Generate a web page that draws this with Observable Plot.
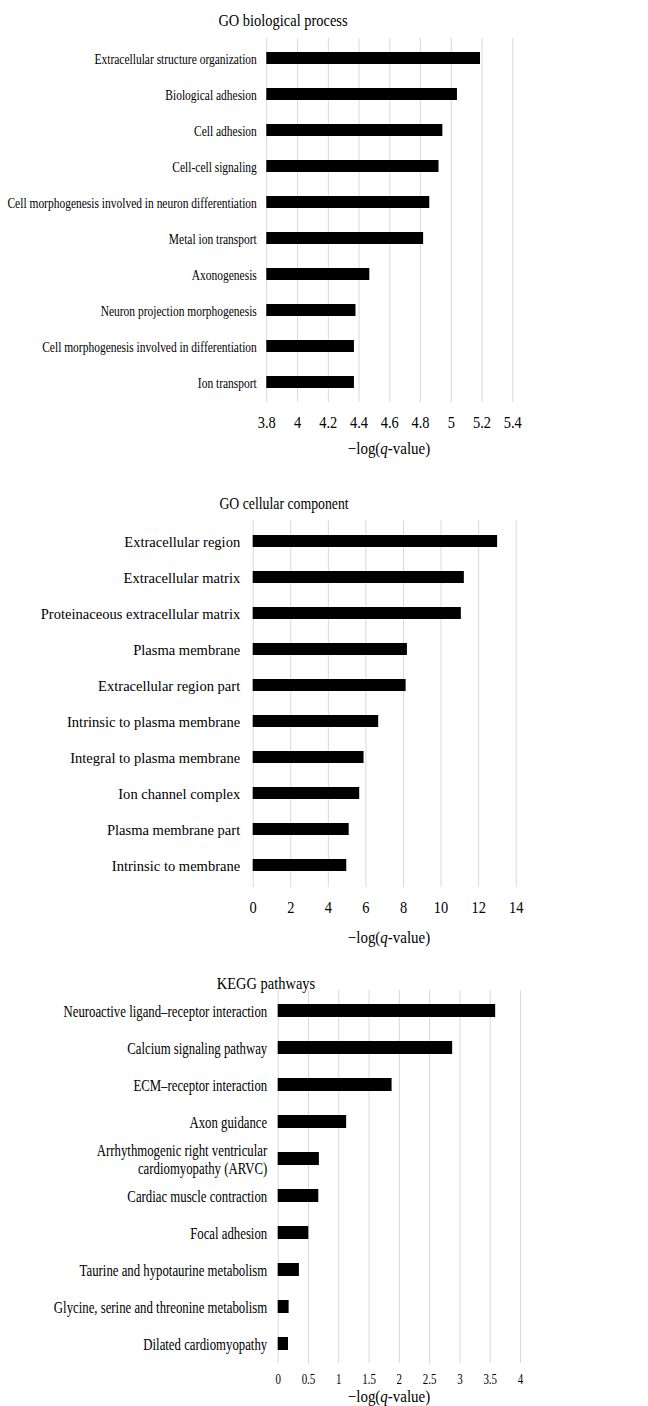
<!DOCTYPE html>
<html>
<head>
<meta charset="utf-8">
<script src="https://cdn.jsdelivr.net/npm/d3@7"></script>
<script src="https://cdn.jsdelivr.net/npm/@observablehq/plot@0.6"></script>
<style>
  html, body { margin: 0; padding: 0; background: #fff; }
  #page { position: relative; width: 648px; height: 1406px; overflow: hidden; background: #fff;
          font-family: "Liberation Serif", "Times New Roman", serif; color: #000; }
  .panel { position: absolute; left: 0; }
  .title, .xlabel { position: absolute; white-space: nowrap; line-height: 1; }
</style>
</head>
<body>
<div id="page"></div>
<script>
// GO biological process
const bpTerms = [
  "Extracellular structure organization",
  "Biological adhesion",
  "Cell adhesion",
  "Cell-cell signaling",
  "Cell morphogenesis involved in neuron differentiation",
  "Metal ion transport",
  "Axonogenesis",
  "Neuron projection morphogenesis",
  "Cell morphogenesis involved in differentiation",
  "Ion transport"
];
const bpValues = [5.19, 5.04, 4.945, 4.92, 4.86, 4.82, 4.47, 4.38, 4.37, 4.37];
const bpTicks = [3.8, 4, 4.2, 4.4, 4.6, 4.8, 5, 5.2, 5.4];

// GO cellular component
const ccTerms = [
  "Extracellular region",
  "Extracellular matrix",
  "Proteinaceous extracellular matrix",
  "Plasma membrane",
  "Extracellular region part",
  "Intrinsic to plasma membrane",
  "Integral to plasma membrane",
  "Ion channel complex",
  "Plasma membrane part",
  "Intrinsic to membrane"
];
const ccValues = [13.01, 11.24, 11.08, 8.21, 8.14, 6.68, 5.9, 5.67, 5.11, 4.98];
const ccTicks = [0, 2, 4, 6, 8, 10, 12, 14];

// KEGG pathways
const keggTerms = [
  "Neuroactive ligand\u2013receptor interaction",
  "Calcium signaling pathway",
  "ECM\u2013receptor interaction",
  "Axon guidance",
  "Arrhythmogenic right ventricular\ncardiomyopathy (ARVC)",
  "Cardiac muscle contraction",
  "Focal adhesion",
  "Taurine and hypotaurine metabolism",
  "Glycine, serine and threonine metabolism",
  "Dilated cardiomyopathy"
];
const keggValues = [3.59, 2.88, 1.88, 1.13, 0.68, 0.67, 0.505, 0.35, 0.18, 0.17];
const keggTicks = [0, 0.5, 1, 1.5, 2, 2.5, 3, 3.5, 4];

const panelTitles = ["GO biological process", "GO cellular component", "KEGG pathways"];

const page = document.getElementById("page");

// Narrow the Times-like glyphs horizontally around each label's anchor point
function squeeze(svg, selector, k) {
  svg.querySelectorAll(selector + " text").forEach(t => {
    const tr = t.getAttribute("transform") || "";
    t.setAttribute("transform", tr + ` scale(${k},1)`);
  });
}

function panel(cfg) {
  const data = cfg.terms.map((term, i) => ({term, value: cfg.values[i]}));
  const base = cfg.ticks[0];
  const svg = Plot.plot({
    width: 648,
    height: cfg.height,
    marginTop: cfg.marginTop,
    marginBottom: cfg.marginBottom,
    marginLeft: cfg.marginLeft,
    marginRight: cfg.marginRight,
    style: {fontFamily: "'Liberation Serif', 'Times New Roman', serif", background: "transparent", color: "#000"},
    x: {domain: [base, cfg.ticks[cfg.ticks.length - 1]]},
    y: {domain: cfg.terms, paddingInner: 0.66, paddingOuter: 0.33},
    marks: [
      Plot.gridX(cfg.ticks, {stroke: "#d9d9d9", strokeOpacity: 1, strokeWidth: 1}),
      Plot.barX(data, {y: "term", x1: () => base, x2: "value", fill: "#000"}),
      Plot.axisX(cfg.ticks, {tickSize: 0, tickPadding: cfg.xPad, fontSize: cfg.xFont,
                             tickFormat: d => String(d), label: null, fill: "#000"}),
      Plot.axisY({tickSize: 0, tickPadding: cfg.yPad, fontSize: cfg.yFont, label: null,
                  lineHeight: 1.15, fill: "#000"})
    ]
  });
  squeeze(svg, 'g[aria-label="y-axis tick label"]', cfg.yScale);
  squeeze(svg, 'g[aria-label="x-axis tick label"]', cfg.xScale);
  svg.classList.add("panel");
  svg.style.top = cfg.top + "px";
  page.appendChild(svg);

  const title = document.createElement("div");
  title.className = "title";
  title.textContent = cfg.title;
  title.style.fontSize = "17px";
  title.style.left = cfg.titleX + "px";
  title.style.top = cfg.titleY + "px";
  title.style.transform = `translate(-50%, -50%) scaleX(${cfg.titleScale})`;
  page.appendChild(title);

  const xl = document.createElement("div");
  xl.className = "xlabel";
  xl.innerHTML = "\u2212log(<i>q</i>-value)";
  xl.style.fontSize = "17px";
  xl.style.left = "389px";
  xl.style.top = cfg.xLabelY + "px";
  xl.style.transform = "translate(-50%, -50%) scaleX(0.88)";
  page.appendChild(xl);
}

panel({
  title: panelTitles[0], terms: bpTerms, values: bpValues, ticks: bpTicks,
  top: 30, height: 410, marginTop: 8, marginBottom: 38, marginLeft: 266.3, marginRight: 135.7,
  xFont: 16, xScale: 0.9, xPad: 14, yFont: 14, yScale: 0.82, yPad: 10,
  titleX: 283, titleY: 20, titleScale: 0.85, xLabelY: 448
});

panel({
  title: panelTitles[1], terms: ccTerms, values: ccValues, ticks: ccTicks,
  top: 512, height: 415, marginTop: 8, marginBottom: 40, marginLeft: 252.7, marginRight: 132.3,
  xFont: 16, xScale: 0.9, xPad: 14, yFont: 15, yScale: 0.97, yPad: 13,
  titleX: 284, titleY: 503, titleScale: 0.81, xLabelY: 937
});

panel({
  title: panelTitles[2], terms: keggTerms, values: keggValues, ticks: keggTicks,
  top: 986, height: 407, marginTop: 4, marginBottom: 30, marginLeft: 277.7, marginRight: 128,
  xFont: 14, xScale: 0.78, xPad: 11, yFont: 16, yScale: 0.8, yPad: 11,
  titleX: 266, titleY: 983, titleScale: 0.85, xLabelY: 1396
});
</script>
</body>
</html>
